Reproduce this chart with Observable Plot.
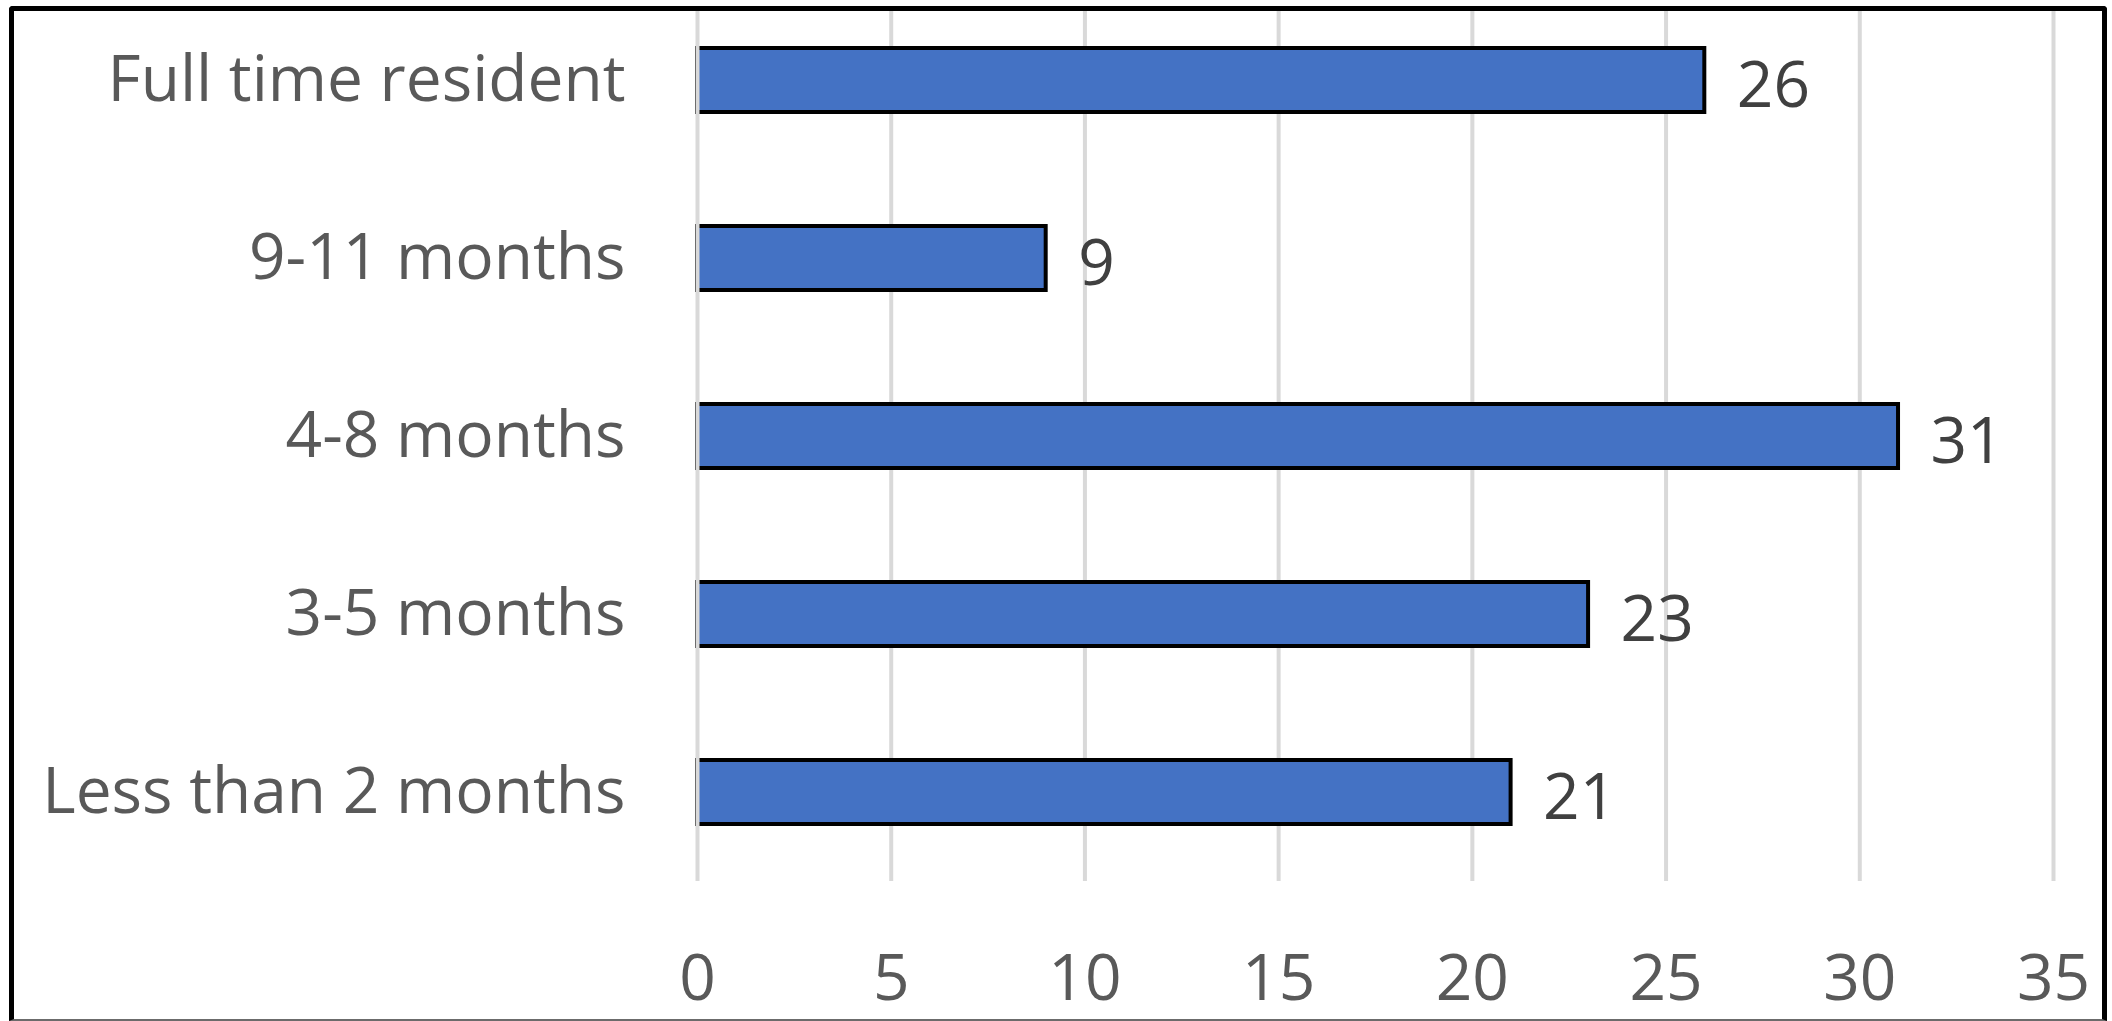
<!DOCTYPE html>
<html><head><meta charset="utf-8">
<script src="https://cdn.jsdelivr.net/npm/d3@7"></script>
<script src="https://cdn.jsdelivr.net/npm/@observablehq/plot@0.6"></script>
<style>
html,body{margin:0;padding:0;background:#fff;}
#wrap{position:relative;width:2112px;height:1021px;overflow:hidden;background:#fff;}
#frame{position:absolute;left:9px;top:6px;width:2098px;height:1015px;box-sizing:border-box;border:5px solid #000;border-bottom:2px solid #6b6b6b;border-radius:4px 4px 0 0;overflow:hidden;}
#frame svg{position:absolute;left:-14px;top:-31px;max-width:none !important;width:2112px !important;height:1041px !important;}
</style></head><body>
<div id="wrap"><div id="frame"></div></div>
<script>
const categories = ["Full time resident", "9-11 months", "4-8 months", "3-5 months", "Less than 2 months"];
const values = [26, 9, 31, 23, 21];
const xTicks = [0, 5, 10, 15, 20, 25, 30, 35];

const data = categories.map((c, i) => ({category: c, value: values[i]}));
const font = "'Open Sans', sans-serif";

const chart = Plot.plot({
  width: 2112, height: 1041,
  marginTop: 11, marginBottom: 140, marginLeft: 697, marginRight: 59,
  style: {fontFamily: font, fontSize: "64px", background: "transparent", overflow: "visible", maxWidth: "none"},
  x: {domain: [0, 35], ticks: xTicks, label: null},
  y: {domain: categories, paddingInner: 0.64, paddingOuter: 0.32, label: null},
  marks: [
    Plot.gridX(xTicks.filter(t => t > 0), {stroke: "#d9d9d9", strokeWidth: 4, strokeOpacity: 1}),
    Plot.barX(data, {x: "value", y: "category", fill: "#4472c4", stroke: "#000", strokeWidth: 4}),
    Plot.gridX([0], {stroke: "#d9d9d9", strokeWidth: 4, strokeOpacity: 1}),
    Plot.text(data, {x: "value", y: "category", text: d => String(d.value), textAnchor: "start", dx: 32, dy: 6, fill: "#404040", fontSize: 64}),
    Plot.axisX(xTicks, {tickSize: 0, tickPadding: 73, color: "#595959", label: null, fontSize: 64}),
    Plot.axisY({tickSize: 0, tickPadding: 72, color: "#595959", label: null, fontSize: 64})
  ]
});
document.getElementById("frame").appendChild(chart);
</script>
</body></html>
